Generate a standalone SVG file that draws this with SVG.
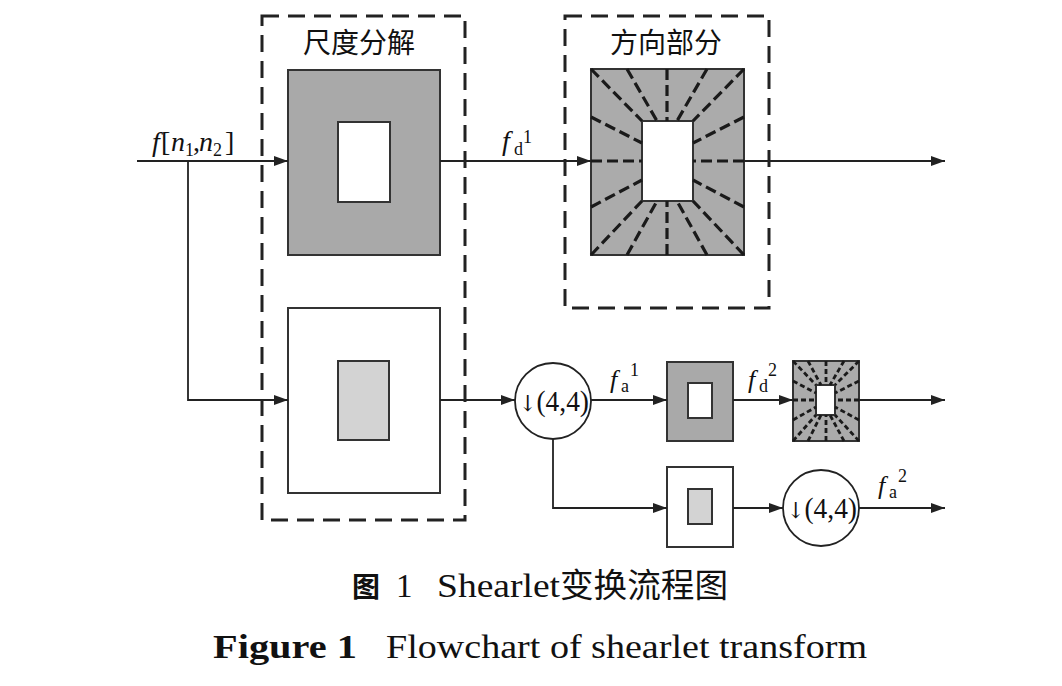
<svg xmlns="http://www.w3.org/2000/svg" width="1062" height="686" viewBox="0 0 1062 686">
<defs>
<marker id="arr" markerUnits="userSpaceOnUse" markerWidth="15" markerHeight="11" refX="14" refY="5" orient="auto"><path d="M0,0 L14,5 L0,10 z" fill="#222"/></marker>
<style>
.dbox{fill:none;stroke:#222;stroke-width:3;stroke-dasharray:17 9}
.box{stroke:#333;stroke-width:2}
.conn{fill:none;stroke:#222;stroke-width:1.8;marker-end:url(#arr)}
.ray{stroke:#1a1a1a;stroke-width:3.2;stroke-dasharray:11 5}
.rays{stroke:#1a1a1a;stroke-width:2.8;stroke-dasharray:5 3}
.cn{font-family:"Noto Sans CJK SC",sans-serif;font-size:28px;fill:#111}
.m{font-family:"Liberation Serif",serif;fill:#111}
.arrow{font-family:"DejaVu Serif",serif}
.it{font-style:italic}
.cap{font-family:"Liberation Serif","Noto Sans CJK SC",serif;fill:#111}
</style>
</defs>
<rect width="1062" height="686" fill="#fff"/>

<g id="scale-group">
<rect class="dbox" x="262" y="16" width="203" height="504"/>
<text class="cn" x="303" y="53">尺度分解</text>
</g>
<g id="direction-group">
<rect class="dbox" x="565" y="16" width="204" height="292"/>
<text class="cn" x="610" y="53">方向部分</text>
</g>

<g id="scale-hi">
<rect class="box" x="288" y="70" width="152" height="185" fill="#a9a9a9"/>
<rect class="box" x="338" y="122" width="52" height="80" fill="#fff"/>
</g>
<g id="scale-lo">
<rect class="box" x="288" y="308" width="152" height="185" fill="#fff"/>
<rect class="box" x="338" y="361" width="51" height="79" fill="#d3d3d3"/>
</g>

<g id="direction-big">
<rect class="box" x="591" y="69" width="153" height="186" fill="#ababab"/>
<rect class="box" x="642" y="121" width="51" height="80" fill="#fff"/>
<g class="ray">
<line x1="591" y1="69" x2="642" y2="121"/>
<line x1="744" y1="69" x2="693" y2="121"/>
<line x1="591" y1="255" x2="642" y2="201"/>
<line x1="744" y1="255" x2="693" y2="201"/>
<line x1="627" y1="69" x2="657" y2="121"/>
<line x1="667" y1="69" x2="667" y2="121"/>
<line x1="707" y1="69" x2="677" y2="121"/>
<line x1="627" y1="255" x2="657" y2="201"/>
<line x1="667" y1="255" x2="667" y2="201"/>
<line x1="707" y1="255" x2="677" y2="201"/>
<line x1="591" y1="117" x2="642" y2="143"/>
<line x1="591" y1="161" x2="642" y2="161"/>
<line x1="591" y1="207" x2="642" y2="180"/>
<line x1="744" y1="117" x2="693" y2="143"/>
<line x1="744" y1="161" x2="693" y2="161"/>
<line x1="744" y1="207" x2="693" y2="180"/>
</g>
</g>

<g id="down1">
<circle cx="553" cy="401" r="38" fill="#fff" stroke="#222" stroke-width="1.8"/>
<text class="m" x="519" y="411" font-size="29" textLength="70" lengthAdjust="spacingAndGlyphs"><tspan class="arrow" font-size="22">↓</tspan><tspan>(4,4)</tspan></text>
</g>

<g id="scale-hi2">
<rect class="box" x="667" y="362" width="66" height="79" fill="#a9a9a9"/>
<rect class="box" x="688" y="383" width="24" height="35" fill="#fff"/>
</g>

<g id="direction-small">
<rect class="box" x="793" y="361" width="66" height="80" fill="#ababab"/>
<rect class="box" x="816" y="385" width="19" height="30" fill="#fff"/>
<g class="rays">
<line x1="793" y1="361" x2="816" y2="385"/>
<line x1="859" y1="361" x2="835" y2="385"/>
<line x1="793" y1="441" x2="816" y2="415"/>
<line x1="859" y1="441" x2="835" y2="415"/>
<line x1="808" y1="361" x2="821" y2="385"/>
<line x1="826" y1="361" x2="826" y2="385"/>
<line x1="844" y1="361" x2="830" y2="385"/>
<line x1="808" y1="441" x2="821" y2="415"/>
<line x1="826" y1="441" x2="826" y2="415"/>
<line x1="844" y1="441" x2="830" y2="415"/>
<line x1="793" y1="381" x2="816" y2="393"/>
<line x1="793" y1="400" x2="816" y2="400"/>
<line x1="793" y1="420" x2="816" y2="407"/>
<line x1="859" y1="381" x2="835" y2="393"/>
<line x1="859" y1="400" x2="835" y2="400"/>
<line x1="859" y1="420" x2="835" y2="407"/>
</g>
</g>

<g id="scale-lo2">
<rect class="box" x="667" y="467" width="66" height="80" fill="#fff"/>
<rect class="box" x="688" y="489" width="24" height="35" fill="#d3d3d3"/>
</g>

<g id="down2">
<circle cx="821" cy="508" r="38" fill="#fff" stroke="#222" stroke-width="1.8"/>
<text class="m" x="787" y="518" font-size="29" textLength="70" lengthAdjust="spacingAndGlyphs"><tspan class="arrow" font-size="22">↓</tspan><tspan>(4,4)</tspan></text>
</g>

<g id="connectors">
<path class="conn" d="M137,161 H288"/>
<path class="conn" d="M188,161 V400 H288"/>
<path class="conn" d="M440,161 H591"/>
<path class="conn" d="M744,161 H945"/>
<path class="conn" d="M440,400 H515"/>
<path class="conn" d="M591,400 H667"/>
<path class="conn" d="M733,400 H793"/>
<path class="conn" d="M859,400 H945"/>
<path class="conn" d="M553,439 V508 H667"/>
<path class="conn" d="M733,508 H783"/>
<path class="conn" d="M859,508 H945"/>
</g>

<g id="labels">
<text class="m" font-size="28"><tspan class="it" x="152" y="151">f</tspan><tspan x="161" y="151">[</tspan><tspan class="it" x="171" y="151">n</tspan><tspan x="185" y="156" font-size="18">1</tspan><tspan x="193" y="151">,</tspan><tspan class="it" x="199" y="151">n</tspan><tspan x="213" y="156" font-size="18">2</tspan><tspan x="225" y="151">]</tspan></text>
<text class="m" font-size="28"><tspan class="it" x="502" y="150">f</tspan><tspan x="514" y="155" font-size="18">d</tspan><tspan x="523" y="143" font-size="18">1</tspan></text>
<text class="m" font-size="26"><tspan class="it" x="610" y="388">f</tspan><tspan x="621" y="392" font-size="18">a</tspan><tspan x="630" y="376" font-size="18">1</tspan></text>
<text class="m" font-size="26"><tspan class="it" x="748" y="388">f</tspan><tspan x="759" y="392" font-size="18">d</tspan><tspan x="768" y="376" font-size="18">2</tspan></text>
<text class="m" font-size="26"><tspan class="it" x="878" y="494">f</tspan><tspan x="889" y="498" font-size="18">a</tspan><tspan x="898" y="482" font-size="18">2</tspan></text>
</g>

<g id="caption">
<text class="cap" x="352" y="597" font-size="28" font-weight="bold" font-family="Noto Sans CJK SC, sans-serif">图</text>
<text class="cap" x="396" y="597" font-size="33">1</text>
<text class="cap" x="437" y="597" font-size="33" textLength="123" lengthAdjust="spacingAndGlyphs">Shearlet</text>
<text class="cap" x="560" y="597" font-size="33" font-family="Noto Sans CJK SC, sans-serif" textLength="168" lengthAdjust="spacingAndGlyphs">变换流程图</text>
<text class="cap" x="213" y="658" font-size="33" font-weight="bold" textLength="144" lengthAdjust="spacingAndGlyphs">Figure 1</text>
<text class="cap" x="386" y="658" font-size="33" textLength="481" lengthAdjust="spacingAndGlyphs">Flowchart of shearlet transform</text>
</g>
</svg>
